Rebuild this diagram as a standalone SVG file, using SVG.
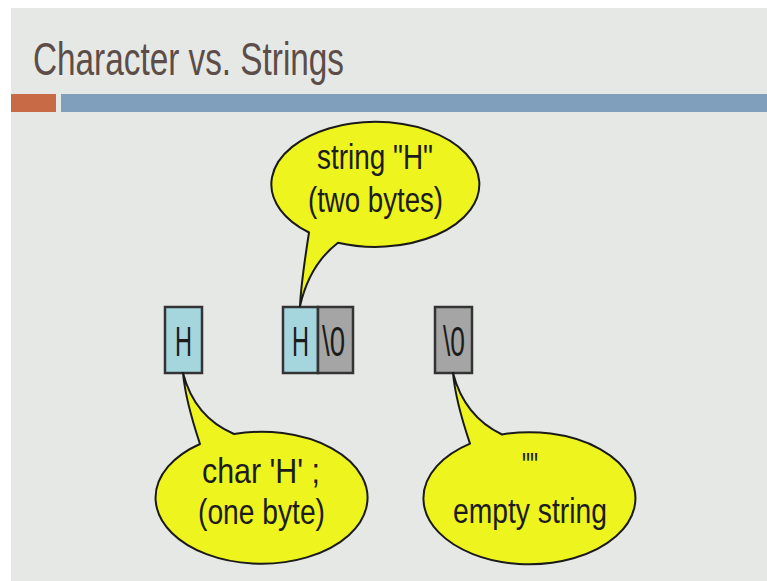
<svg xmlns="http://www.w3.org/2000/svg" width="767" height="581" viewBox="0 0 767 581">
<defs>
<style>
.t{font-family:"Liberation Sans",Arial,sans-serif;fill:#1c1c1c;font-size:35px}
.bx{font-family:"Liberation Sans",Arial,sans-serif;fill:#1c1c1c;font-size:43px}
.bub{fill:#eef41e;stroke:#1a1a1a;stroke-width:2;stroke-linejoin:round}
.blue{fill:#a5d6dd;stroke:#333;stroke-width:2.5}
.gray{fill:#a5a5a5;stroke:#333;stroke-width:2.5}
</style>
</defs>
<rect x="0" y="0" width="767" height="581" fill="#ffffff"/>
<rect x="11" y="8" width="756" height="573" fill="#e6e8e5"/>
<text x="33" y="75" font-family="'Liberation Sans',Arial,sans-serif" font-size="46" fill="#5c4d48" textLength="311" lengthAdjust="spacingAndGlyphs">Character vs. Strings</text>
<rect x="11" y="94" width="45" height="18" fill="#c86a46"/>
<rect x="61" y="94" width="706" height="18" fill="#7f9fbc"/>

<g id="connectors"></g>

<g id="box-char">
<rect class="blue" x="165" y="307" width="37" height="66"/>
<text class="bx" x="175" y="356" textLength="17" lengthAdjust="spacingAndGlyphs">H</text>
</g>
<g id="box-string">
<rect class="blue" x="283" y="307" width="35" height="66"/>
<rect class="gray" x="318" y="307" width="35" height="66"/>
<text class="bx" x="292" y="356" textLength="17" lengthAdjust="spacingAndGlyphs">H</text>
<text class="bx" x="322" y="356" textLength="23" lengthAdjust="spacingAndGlyphs">\0</text>
</g>
<g id="box-empty">
<rect class="gray" x="435" y="307" width="37" height="66"/>
<text class="bx" x="443" y="356" textLength="22" lengthAdjust="spacingAndGlyphs">\0</text>
</g>

<g id="bubble-string">
<path class="bub" d="M338,242.7 A104,62.5 0 1 0 309,232.5 C305,258 301,285 300,306 C306,280 318,258 338,242.7 Z"/>
<text class="t" x="317" y="169" textLength="116" lengthAdjust="spacingAndGlyphs">string "H"</text>
<text class="t" x="308" y="212" textLength="135" lengthAdjust="spacingAndGlyphs">(two bytes)</text>
</g>
<g id="bubble-char">
<path class="bub" d="M234,434 A106,66 0 1 1 200,444 C192,420 185,395 183,373 C190,400 206,422 234,434 Z"/>
<text class="t" x="202" y="483" textLength="118" lengthAdjust="spacingAndGlyphs">char  'H' ;</text>
<text class="t" x="198" y="524" textLength="127" lengthAdjust="spacingAndGlyphs">(one byte)</text>
</g>
<g id="bubble-empty">
<path class="bub" d="M502,434.5 A106,66 0 1 1 470,443.6 C462,420 455,395 453,373 C460,400 476,422 502,434.5 Z"/>
<text class="t" x="522" y="477" textLength="16" lengthAdjust="spacingAndGlyphs">""</text>
<text class="t" x="453" y="523" textLength="154" lengthAdjust="spacingAndGlyphs">empty string</text>
</g>
</svg>
